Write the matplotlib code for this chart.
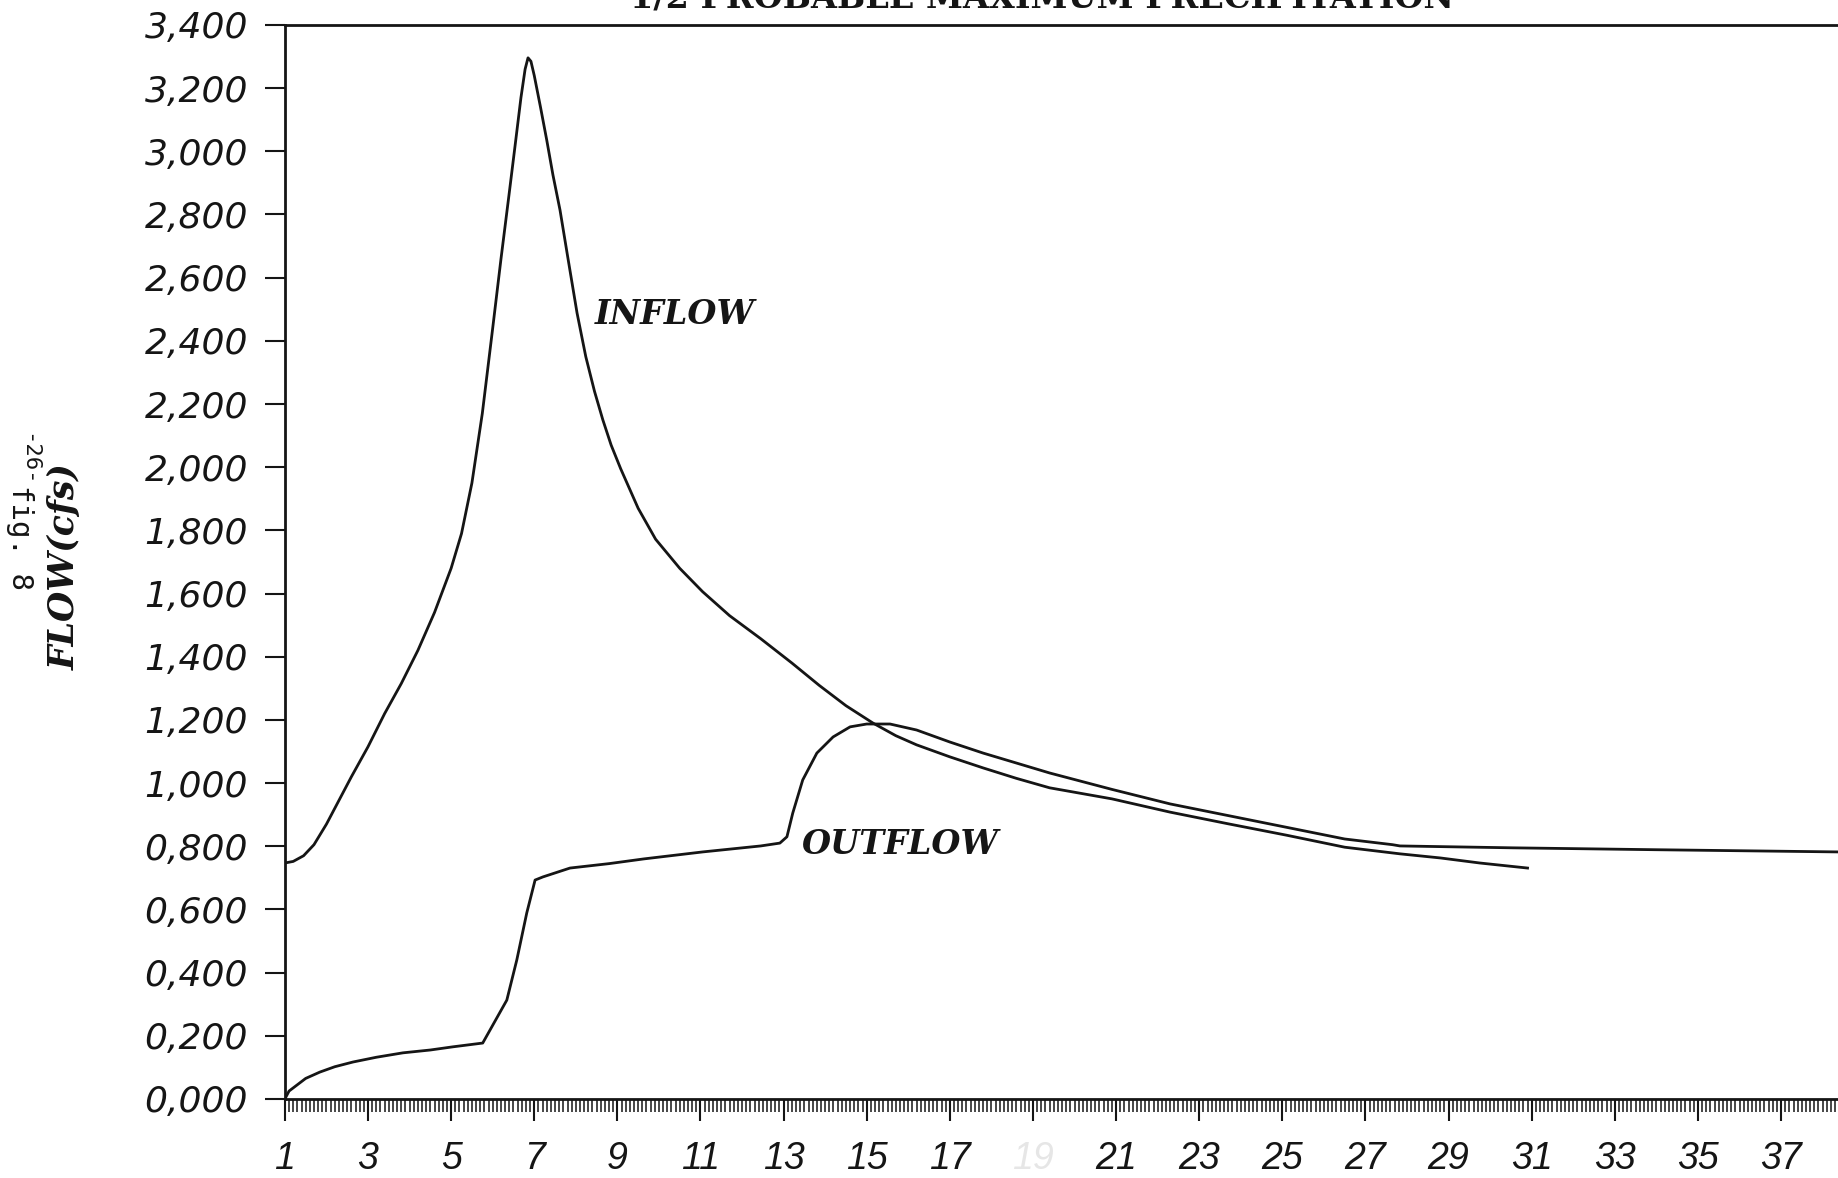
import matplotlib
matplotlib.use('Agg')
import matplotlib.pyplot as plt
from matplotlib.ticker import MultipleLocator, FixedLocator
from matplotlib import font_manager

# hydrograph values (x = time, y = flow in cfs)
inflow_x = [1.0, 1.2, 1.45, 1.7, 2.0, 2.3, 2.6, 3.0, 3.4, 3.8, 4.2, 4.6, 5.0, 5.25,
            5.5, 5.75, 6.0, 6.2, 6.4, 6.55, 6.68, 6.78, 6.85, 6.92, 7.0, 7.15, 7.3,
            7.45, 7.62, 7.8, 8.03, 8.24, 8.45, 8.65, 8.85, 9.08, 9.5, 9.92, 10.5,
            11.05, 11.7, 12.45, 13.2, 13.86, 14.5, 15.15, 15.7, 16.2, 17.0, 17.8,
            18.6, 19.4, 20.9, 22.3, 23.7, 25.1, 26.5, 27.83, 28.8, 29.75, 30.9]
inflow_y = [747, 752, 770, 805, 870, 945, 1020, 1115, 1220, 1315, 1420, 1540, 1680, 1790,
            1950, 2170, 2440, 2660, 2870, 3030, 3170, 3260, 3296, 3285, 3240, 3140, 3036,
            2925, 2814, 2670, 2488, 2350, 2240, 2150, 2070, 1995, 1870, 1772, 1680,
            1606, 1530, 1457, 1380, 1309, 1245, 1190, 1150, 1121, 1083, 1048,
            1015, 985, 950, 908, 871, 835, 797, 776, 763, 747, 731]

outflow_x = [1.0, 1.1, 1.29, 1.5, 1.84, 2.2, 2.64, 3.2, 3.84, 4.5, 5.04, 5.76, 6.34,
             6.58, 6.82, 7.02, 7.21, 7.86, 8.8, 9.64, 11.05, 12.45, 12.91, 13.08,
             13.22, 13.46, 13.8, 14.19, 14.6, 15.0, 15.56, 16.2, 17.0, 17.8, 19.4,
             20.9, 22.3, 23.7, 25.1, 26.5, 27.65, 27.83, 30.55, 34.0, 38.4]
outflow_y = [0, 25, 44, 65, 85, 102, 117, 132, 146, 155, 165, 177, 313,
             440, 589, 693, 703, 731, 745, 760, 782, 801, 810, 830,
             905, 1010, 1095, 1146, 1178, 1187, 1187, 1168, 1130, 1095, 1032,
             980, 934, 897, 860, 823, 805, 801, 795, 789, 782]

y_ticks = list(range(0, 3401, 200))
y_labels = [f"{v // 1000},{v % 1000:03d}" for v in y_ticks]
x_ticks = list(range(1, 38, 2))
x_labels = [str(v) for v in x_ticks]

ink = '#151515'

# narrow font for the x labels if there is one
names = {f.name for f in font_manager.fontManager.ttflist}
narrow = 'Liberation Sans Narrow' if 'Liberation Sans Narrow' in names else 'Liberation Sans'

fig = plt.figure(figsize=(18.38, 11.78), dpi=100)
ax = fig.add_axes([0.155, 0.0671, 0.845, 0.9117])

ax.plot(inflow_x, inflow_y, color=ink, lw=2.0)
ax.plot(outflow_x, outflow_y, color=ink, lw=2.0)

ax.set_xlim(1, 38.37)
ax.set_ylim(0, 3400)

ax.spines['right'].set_visible(False)
for s in ['left', 'bottom', 'top']:
    ax.spines[s].set_linewidth(2.0)
    ax.spines[s].set_color(ink)

ax.xaxis.set_major_locator(FixedLocator(x_ticks))
ax.xaxis.set_minor_locator(MultipleLocator(0.1))
ax.set_xticks(x_ticks)
ax.set_xticklabels(x_labels)
ax.set_yticks(y_ticks)
ax.set_yticklabels(y_labels)

ax.tick_params(axis='x', which='major', direction='out', length=16, width=1.5,
               color=ink, pad=14, top=False)
ax.tick_params(axis='x', which='minor', direction='out', length=9.5, width=1.1,
               color=ink, top=False)
ax.tick_params(axis='y', direction='out', length=14.5, width=1.5, color=ink,
               pad=12, right=False)

for lab in ax.get_xticklabels():
    lab.set_family(narrow)
    lab.set_style('italic')
    lab.set_fontsize(27)
    lab.set_color(ink)
    if lab.get_text() == '19':
        lab.set_color('#e6e6e6')
for lab in ax.get_yticklabels():
    lab.set_family('DejaVu Sans')
    lab.set_style('oblique')
    lab.set_fontsize(26)
    lab.set_color(ink)

# curve labels
ax.text(10.38, 2485, 'INFLOW', family='DejaVu Serif', style='italic', weight='bold',
        fontsize=24, color=ink, ha='center', va='center')
ax.text(15.8, 807, 'OUTFLOW', family='DejaVu Serif', style='italic', weight='bold',
        fontsize=24, color=ink, ha='center', va='center')

# axis title and margin notes
fig.text(0.0355, 0.5187, 'FLOW(cfs)', family='DejaVu Serif', style='italic',
         weight='bold', fontsize=25, color=ink, rotation=90, ha='center', va='center')
fig.text(0.0109, 0.544, 'fig. 8', family='DejaVu Sans Mono', fontsize=21,
         color=ink, rotation=-90, ha='center', va='center')
fig.text(0.0152, 0.6095, '-26-', family='DejaVu Sans Mono', fontsize=16,
         color=ink, rotation=-90, ha='center', va='center')

# title, cut off by the top edge of the scan
fig.text(0.567, 0.9935, '1/2 PROBABLE MAXIMUM PRECIPITATION', family='DejaVu Serif',
         weight='bold', fontsize=24, color=ink, ha='center', va='baseline')

fig.savefig('out.png', dpi=100, facecolor='white')
